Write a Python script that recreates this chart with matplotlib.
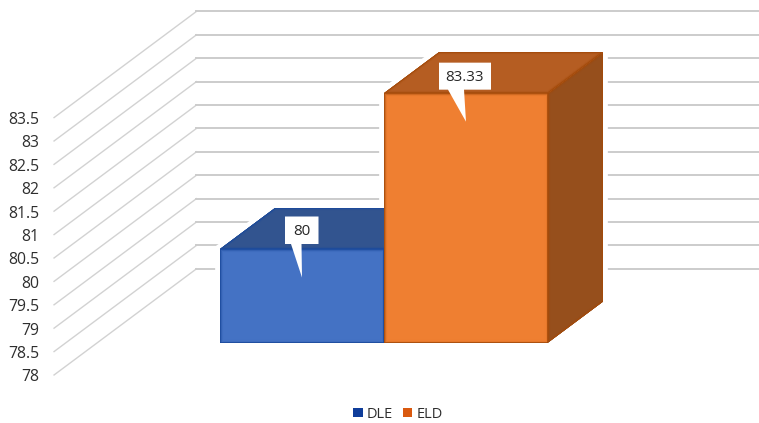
import matplotlib
matplotlib.use("Agg")
import matplotlib.pyplot as plt
from matplotlib.colors import to_rgb
from matplotlib.patches import Patch, Polygon

plt.rcParams['font.family'] = ['Open Sans', 'DejaVu Sans']

# data
categories = ['DLE', 'ELD']
values = [80, 83.33]
value_labels = ['80', '83.33']
ticks = [78, 78.5, 79, 79.5, 80, 80.5, 81, 81.5, 82, 82.5, 83, 83.5]
tick_labels = ['78', '78.5', '79', '79.5', '80', '80.5', '81', '81.5', '82', '82.5', '83', '83.5']

# colores: frente, arriba, lado, borde
blue = ('#4472c4', '#32548f', '#264478', '#1b4a9c')
orange = ('#ef7f31', '#b55d22', '#964f1c', '#a34a0a')
colors = [blue, orange]
legend_colors = ['#0f3d9a', '#d9590f']

# escalas
W, H = 759, 423
PX_CAT = 164.0   # pixeles por categoria
PX_VAL = 46.8    # pixeles por unidad de valor
X0 = 302.0       # pixel de la categoria 0
Y0 = 342.6       # pixel del valor 78
DEPTH_X = 55 / PX_CAT   # profundidad de la barra en x
DEPTH_Y = 41 / PX_VAL   # profundidad de la barra en y
WALL_X = -1.247
WALL_FRONT = -0.79
WALL_BACK = 1.80
BASE = ticks[0]


def proy(x, v, d=0.0):
    # Proyeccion oblicua: d es la profundidad
    return x + d * DEPTH_X, v + d * DEPTH_Y


def cara(ax, pts, face, edge, z):
    # Cara con bisel: trazos cada vez mas finos recortados a la cara
    poly = Polygon(pts, closed=True, facecolor=face, edgecolor='none', zorder=z)
    ax.add_patch(poly)
    f, e = to_rgb(face), to_rgb(edge)
    n = 4
    for i in range(n):
        t = (i + 1) / n
        c = tuple(a + (b - a) * t ** 3 for a, b in zip(f, e))
        line = Polygon(pts, closed=True, fill=False, edgecolor=c,
                       linewidth=(n - i) * 1.1, zorder=z, joinstyle='miter')
        ax.add_patch(line)
        line.set_clip_path(poly)


fig = plt.figure(figsize=(W / 100, H / 100), dpi=100, facecolor='white')
ax = fig.add_axes([0, 0, 1, 1])
x_max = (W - X0) / PX_CAT
ax.set_xlim(-X0 / PX_CAT, x_max)
ax.set_ylim(BASE - (H - Y0) / PX_VAL, BASE + Y0 / PX_VAL)
ax.axis('off')

# rejilla
for t, lab in zip(ticks, tick_labels):
    x_a, y_a = proy(WALL_X, t, WALL_FRONT)
    x_b, y_b = proy(WALL_X, t, WALL_BACK)
    ax.plot([x_a, x_b], [y_a, y_b], color='#d2d2d2', lw=1.0, zorder=1)
    ax.plot([x_b, x_max], [y_b, y_b], color='#cccccc', lw=1.4, zorder=1)
    ax.text(x_a - 15 / PX_CAT, y_a - 2.5 / PX_VAL, lab, ha='right', va='center',
            fontsize=11.3, color='#2e2e2e', zorder=6)

# barras
for i, (v, col) in enumerate(zip(values, colors)):
    l, r = i - 0.5, i + 0.5
    front = [proy(l, BASE), proy(r, BASE), proy(r, v), proy(l, v)]
    top = [proy(l, v), proy(r, v), proy(r, v, 1), proy(l, v, 1)]
    side = [proy(r, BASE), proy(r, BASE, 1), proy(r, v, 1), proy(r, v)]
    # halo blanco que corta la rejilla
    outline = [proy(l, BASE), proy(r, BASE), proy(r, BASE, 1), proy(r, v, 1), proy(l, v, 1), proy(l, v)]
    ax.add_patch(Polygon(outline, closed=True, facecolor='white', edgecolor='white', lw=7, zorder=2))
    cara(ax, side, col[2], col[3], 3 + i)
    cara(ax, top, col[1], col[3], 3 + i)
    cara(ax, front, col[0], col[3], 3 + i)

# etiquetas con globo (desplazamientos en pixeles desde la punta)
boxes = [(-17, 16.5, -61, -33.5, -11, -0.5), (-27, 25, -59, -32, -18, -2)]
for i, (v, txt, b) in enumerate(zip(values, value_labels, boxes)):
    tip_x, tip_y = proy(i, v)
    tip_y -= 28.5 / PX_VAL
    x1, x2, y1, y2, p1, p2 = b
    pts = [(x1, y1), (x2, y1), (x2, y2), (p2, y2), (0, 0), (p1, y2), (x1, y2)]
    pts = [(tip_x + px / PX_CAT, tip_y - py / PX_VAL) for px, py in pts]
    ax.add_patch(Polygon(pts, closed=True, facecolor='white', edgecolor='none', zorder=7))
    ax.text(tip_x + (x1 + x2) / 2 / PX_CAT, tip_y - ((y1 + y2) / 2 + 1) / PX_VAL, txt,
            ha='center', va='center', fontsize=11, color='#262626', zorder=8)

# leyenda
handles = [Patch(facecolor=c, edgecolor='none', label=n) for c, n in zip(legend_colors, categories)]
fig.legend(handles=handles, loc='center', bbox_to_anchor=(0.5245, 0.021), ncol=2, frameon=False,
           fontsize=10.5, handlelength=0.65, handleheight=0.65, handletextpad=0.3,
           columnspacing=0.65, labelcolor='#2e2e2e', borderpad=0)

plt.savefig('out.png', dpi=100, facecolor='white')
